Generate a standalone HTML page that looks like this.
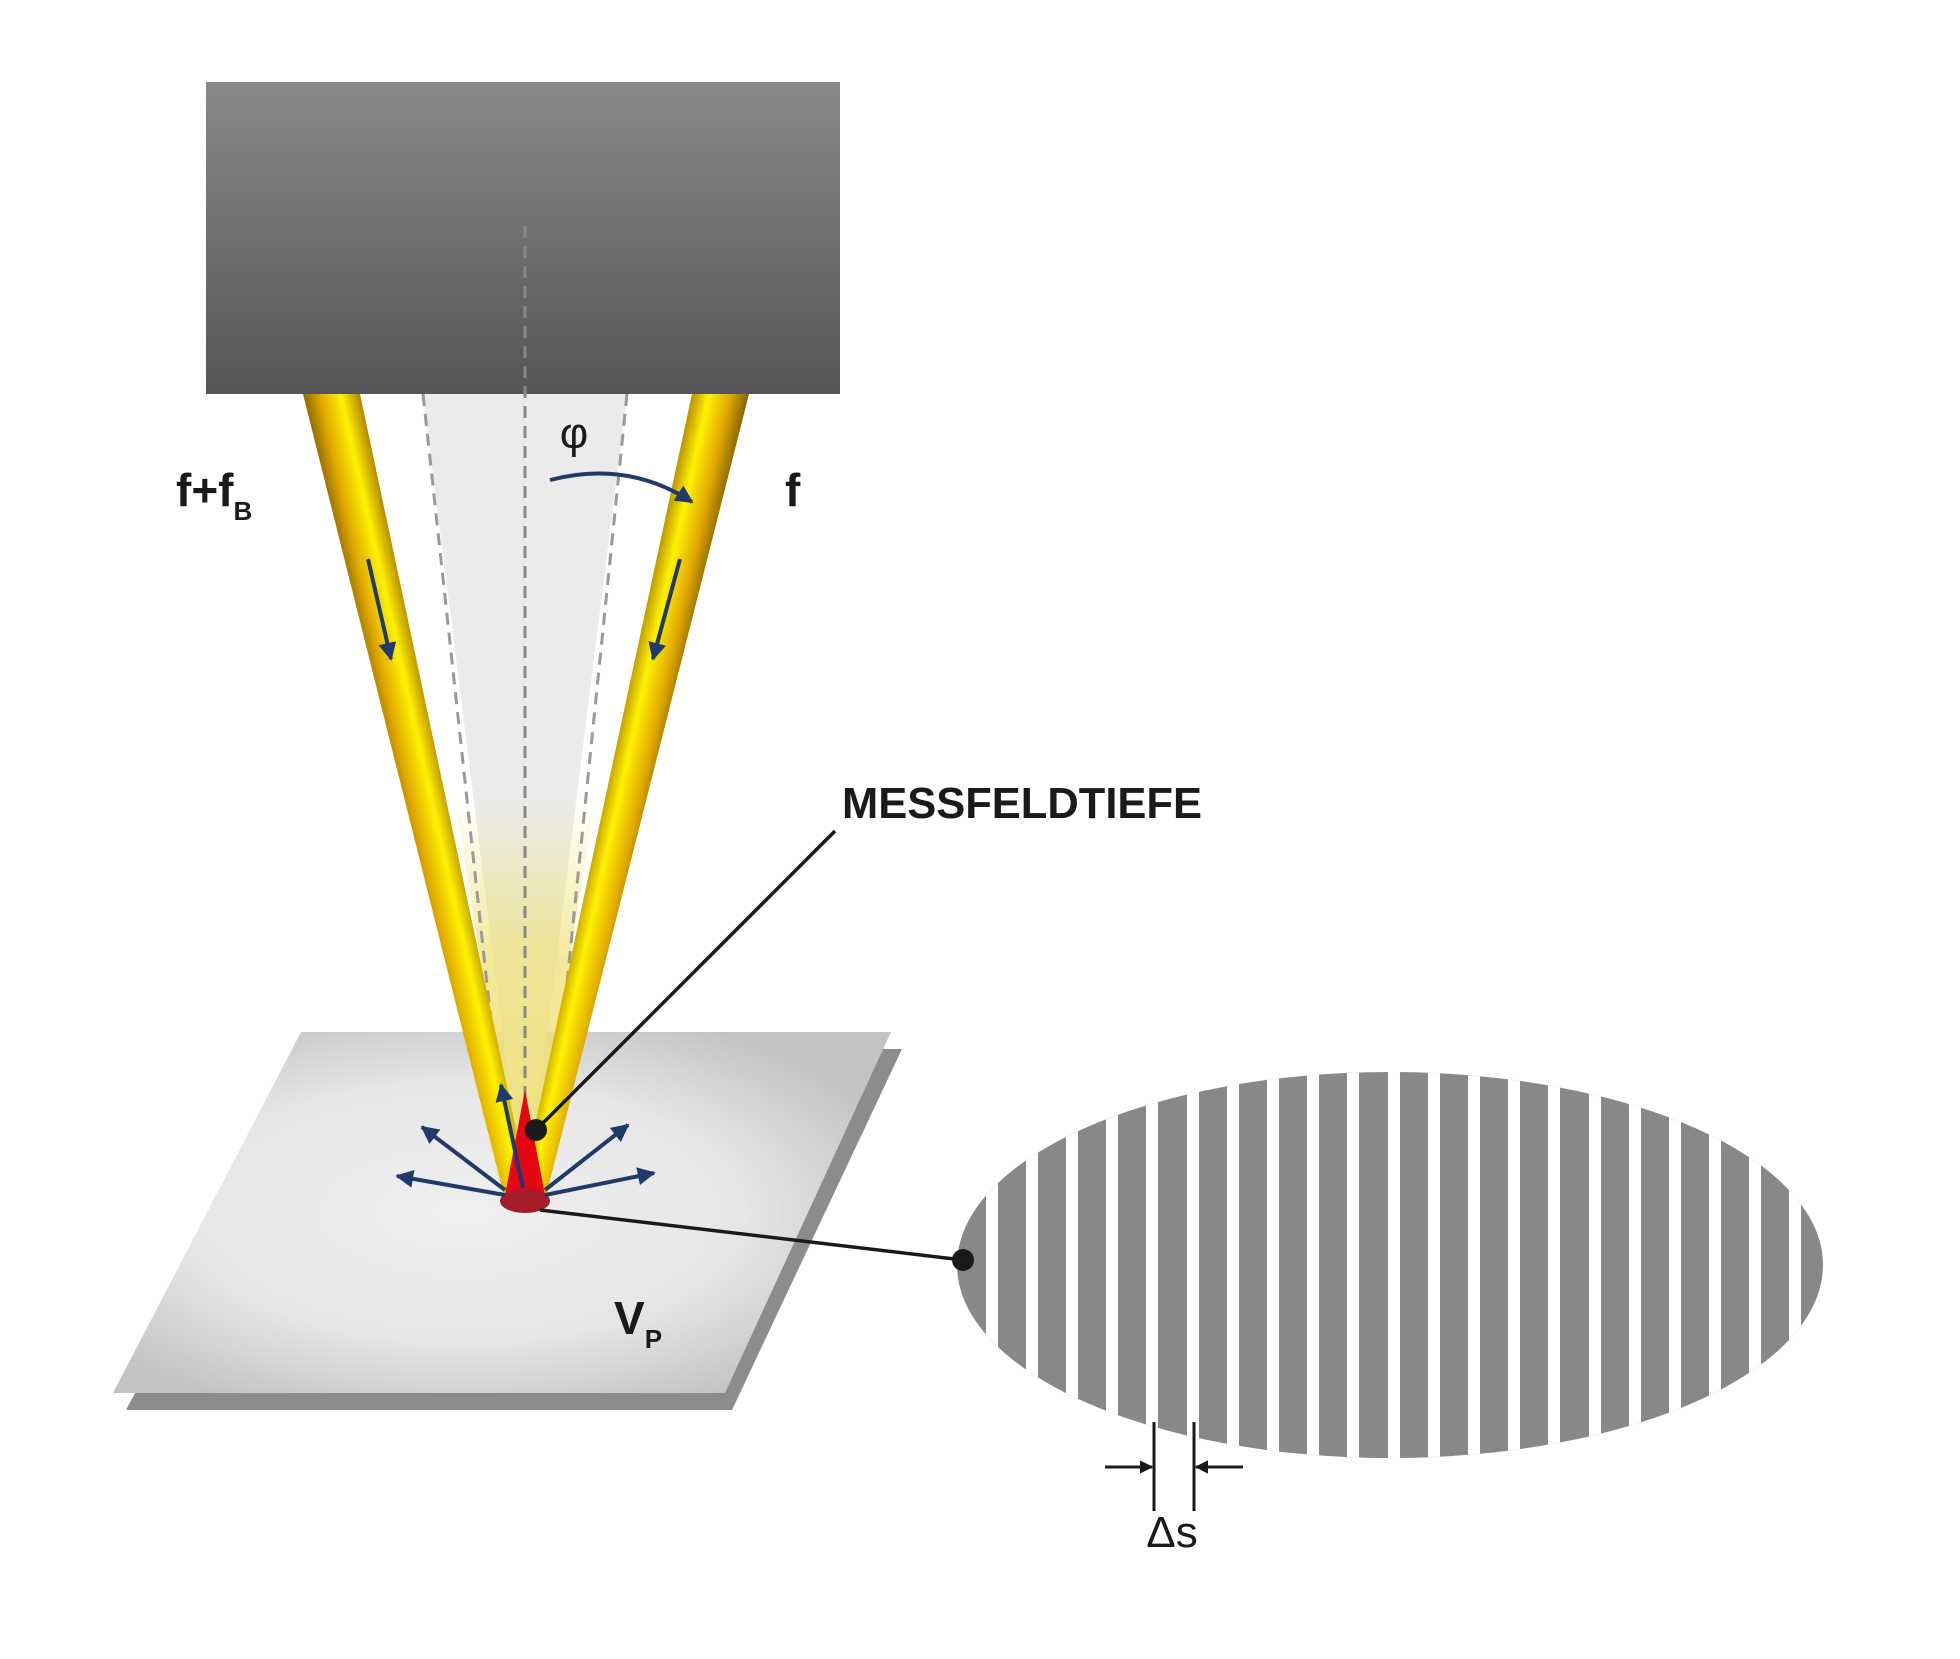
<!DOCTYPE html>
<html><head><meta charset="utf-8"><style>
html,body{margin:0;padding:0;background:#fff}
svg{display:block}
text{font-family:"Liberation Sans","DejaVu Sans",sans-serif;fill:#1a1a1a}
</style></head><body>
<svg width="1960" height="1659" viewBox="0 0 1960 1659" xmlns="http://www.w3.org/2000/svg">
<defs>
<linearGradient id="box" x1="0" y1="0" x2="0" y2="1">
<stop offset="0" stop-color="#8a8989"/><stop offset="1" stop-color="#565556"/></linearGradient>
<radialGradient id="plate" cx="0.45" cy="0.5" r="0.6">
<stop offset="0" stop-color="#f0f0f0"/><stop offset="0.6" stop-color="#e6e6e6"/><stop offset="1" stop-color="#c4c3c4"/></radialGradient>
<linearGradient id="bl" gradientUnits="userSpaceOnUse" x1="300" y1="402" x2="358" y2="389">
<stop offset="0" stop-color="#7a5a00"/><stop offset="0.35" stop-color="#e0a800"/><stop offset="0.7" stop-color="#fff200"/><stop offset="1" stop-color="#b58a00"/></linearGradient>
<linearGradient id="br" gradientUnits="userSpaceOnUse" x1="692" y1="389" x2="750" y2="402">
<stop offset="0" stop-color="#b58a00"/><stop offset="0.3" stop-color="#fff200"/><stop offset="0.65" stop-color="#e0a800"/><stop offset="1" stop-color="#7a5a00"/></linearGradient>
<linearGradient id="py" x1="0" y1="0" x2="0" y2="1">
<stop offset="0" stop-color="#f0e070" stop-opacity="0"/><stop offset="0.4" stop-color="#f0e070" stop-opacity="0.7"/><stop offset="1" stop-color="#f0e070" stop-opacity="0.9"/></linearGradient>
<marker id="ah" viewBox="0 0 10 10" refX="9" refY="5" markerWidth="4.5" markerHeight="4.5" orient="auto"><path d="M0,0L10,5L0,10z" fill="#1f3a6b"/></marker>
<marker id="ak" viewBox="0 0 10 10" refX="9" refY="5" markerWidth="4.5" markerHeight="4.5" orient="auto"><path d="M0,0L10,5L0,10z" fill="#1a1a1a"/></marker>
<clipPath id="ell"><ellipse cx="1390" cy="1265" rx="433" ry="193"/></clipPath>
</defs>

<polygon points="316,1049 902,1049 732,1410 126,1410" fill="#8c8c8c"/>
<polygon points="301,1032 891,1032 725,1393 113,1393" fill="url(#plate)"/>

<polygon points="423,394 627,394 527,1195 523,1195" fill="#ebebeb"/>
<polygon points="455,800 595,800 532,1195 518,1195" fill="url(#py)"/>
<line x1="423" y1="394" x2="505" y2="1150" stroke="#999" stroke-width="3" stroke-dasharray="12,8"/>
<line x1="627" y1="394" x2="550" y2="1150" stroke="#999" stroke-width="3" stroke-dasharray="12,8"/>

<polygon points="303,394 360,394 530,1195 505,1200" fill="url(#bl)"/>
<polygon points="692,394 749,394 545,1200 520,1195" fill="url(#br)"/>

<rect x="206" y="82" width="634" height="312" fill="url(#box)"/>
<line x1="525" y1="226" x2="525" y2="1195" stroke="#888" stroke-width="3" stroke-dasharray="12,8"/>

<polygon points="525,1090 545,1195 505,1195" fill="#e30613"/>
<ellipse cx="525" cy="1201" rx="25" ry="12" fill="#a51c28"/>

<line x1="368" y1="559" x2="391" y2="659" stroke="#1f3a6b" stroke-width="4" marker-end="url(#ah)"/>
<line x1="680" y1="559" x2="653" y2="659" stroke="#1f3a6b" stroke-width="4" marker-end="url(#ah)"/>
<path d="M550,480 Q628,460 692,502" fill="none" stroke="#1f3a6b" stroke-width="4" marker-end="url(#ah)"/>

<g stroke="#1f3a6b" stroke-width="4" fill="none" marker-end="url(#ah)">
<line x1="505" y1="1195" x2="397" y2="1176"/>
<line x1="505" y1="1190" x2="422" y2="1127"/>
<line x1="523" y1="1188" x2="501" y2="1085"/>
<line x1="545" y1="1190" x2="628" y2="1125"/>
<line x1="545" y1="1195" x2="654" y2="1173"/>
</g>

<line x1="536" y1="1130" x2="835" y2="831" stroke="#1a1a1a" stroke-width="3.5"/>
<circle cx="536" cy="1130" r="11" fill="#1a1a1a"/>
<line x1="540" y1="1210" x2="963" y2="1260" stroke="#1a1a1a" stroke-width="3.5"/>

<g clip-path="url(#ell)">
<rect x="955" y="1070" width="870" height="400" fill="#888"/>
<g fill="#fff">
<rect x="986" y="1060" width="12" height="420"/>
<rect x="1026" y="1060" width="12" height="420"/>
<rect x="1066" y="1060" width="12" height="420"/>
<rect x="1106" y="1060" width="12" height="420"/>
<rect x="1146" y="1060" width="12" height="420"/>
<rect x="1187" y="1060" width="12" height="420"/>
<rect x="1227" y="1060" width="12" height="420"/>
<rect x="1267" y="1060" width="12" height="420"/>
<rect x="1307" y="1060" width="12" height="420"/>
<rect x="1347" y="1060" width="12" height="420"/>
<rect x="1388" y="1060" width="12" height="420"/>
<rect x="1428" y="1060" width="12" height="420"/>
<rect x="1468" y="1060" width="12" height="420"/>
<rect x="1508" y="1060" width="12" height="420"/>
<rect x="1548" y="1060" width="12" height="420"/>
<rect x="1589" y="1060" width="12" height="420"/>
<rect x="1629" y="1060" width="12" height="420"/>
<rect x="1669" y="1060" width="12" height="420"/>
<rect x="1709" y="1060" width="12" height="420"/>
<rect x="1749" y="1060" width="12" height="420"/>
<rect x="1789" y="1060" width="12" height="420"/>
</g>
</g>
<circle cx="963" cy="1260" r="11" fill="#1a1a1a"/>

<line x1="1154" y1="1422" x2="1154" y2="1511" stroke="#1a1a1a" stroke-width="3"/>
<line x1="1194" y1="1422" x2="1194" y2="1511" stroke="#1a1a1a" stroke-width="3"/>
<line x1="1105" y1="1467" x2="1152" y2="1467" stroke="#1a1a1a" stroke-width="3" marker-end="url(#ak)"/>
<line x1="1243" y1="1467" x2="1196" y2="1467" stroke="#1a1a1a" stroke-width="3" marker-end="url(#ak)"/>
<text x="1172" y="1547" font-size="44" text-anchor="middle">Δs</text>

<text x="176" y="506" font-size="46" font-weight="bold">f+f<tspan font-size="26" dy="14">B</tspan></text>
<text x="785" y="506" font-size="46" font-weight="bold">f</text>
<text x="574" y="448" font-size="44" text-anchor="middle">φ</text>
<text x="842" y="818" font-size="44" font-weight="bold" textLength="360" lengthAdjust="spacingAndGlyphs">MESSFELDTIEFE</text>
<text x="614" y="1334" font-size="46" font-weight="bold">V<tspan font-size="26" dy="14">P</tspan></text>
</svg>
</body></html>
